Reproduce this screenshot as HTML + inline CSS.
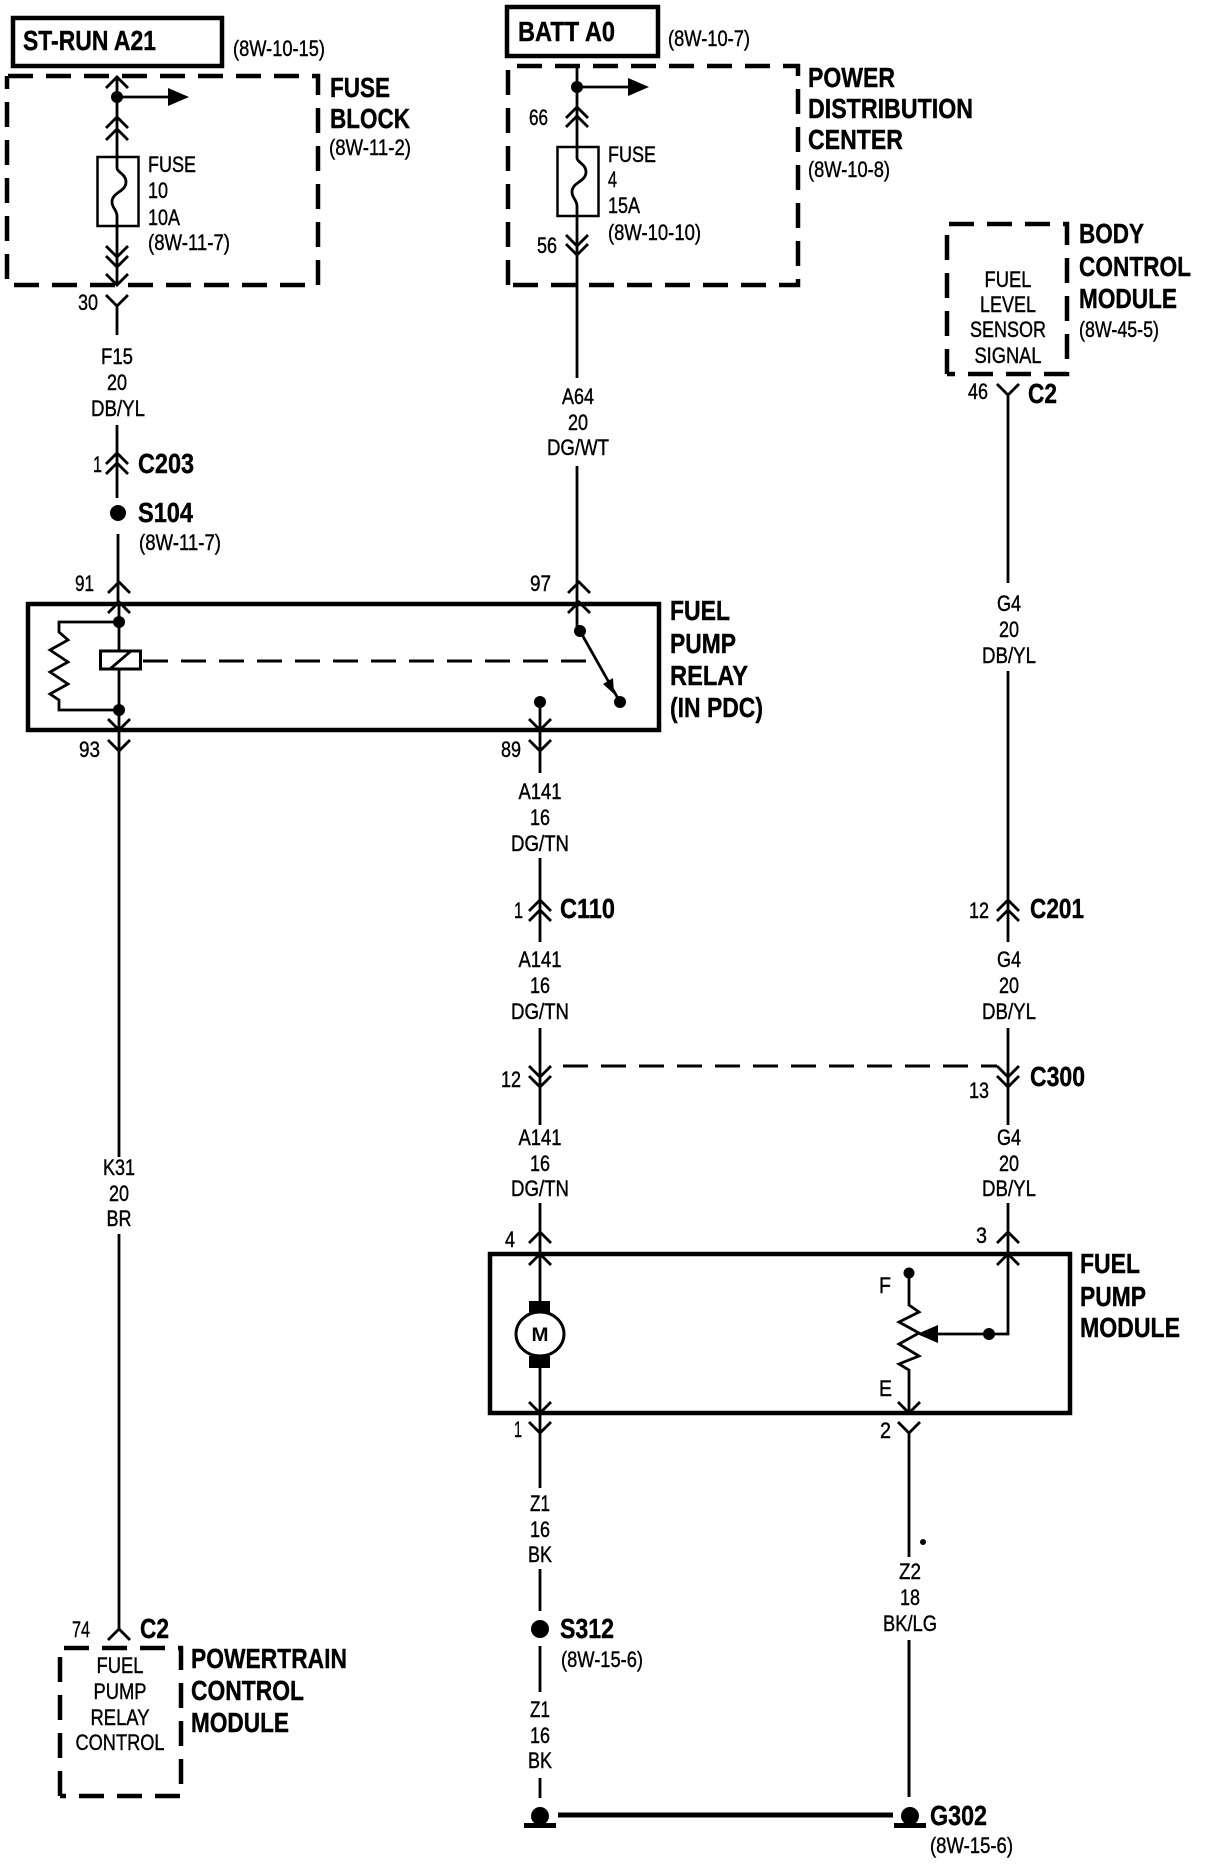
<!DOCTYPE html>
<html><head><meta charset="utf-8"><style>
html,body{margin:0;padding:0;background:#fff}
svg{display:block}
text{font-family:"Liberation Sans",Arial,sans-serif;fill:#000}
.s{font-size:22px;stroke:#000;stroke-width:.4}
.b{font-size:28px;font-weight:bold;stroke:#000;stroke-width:.4}
.m{text-anchor:middle}
.w{fill:none;stroke:#000;stroke-width:2.8}
.t{fill:none;stroke:#000;stroke-width:4.5}
.d{fill:none;stroke:#000;stroke-width:4.5;stroke-dasharray:25 13}
.c{fill:none;stroke:#000;stroke-width:2.8}
</style></head><body>
<svg width="1216" height="1864" viewBox="0 0 1216 1864" xmlns="http://www.w3.org/2000/svg">
<rect width="1216" height="1864" fill="#fff"/>

<!-- solid boxes -->
<rect class="t" x="13" y="18" width="209" height="48"/>
<rect class="t" x="507" y="7" width="151" height="49"/>
<rect class="t" x="28" y="604" width="631" height="126"/>
<rect class="t" x="490" y="1254" width="580" height="159"/>

<!-- dashed boxes -->
<path class="d" d="M8,76 H318 V285 H7 V76"/>
<path class="d" d="M508,285 V66 H798 V285 H508"/>
<path class="d" d="M947,374 V224 H1067 V374 H947"/>
<path class="d" d="M60,1796 V1648 H181 V1796 H60"/>

<!-- wires -->
<path class="w" d="M117,76 V157 M117,226 V285 M117,305 V335 M117,425 V498 M118,534 V602"/>
<path class="w" d="M577,66 V147 M577,216 V378 M577,466 V631"/>
<path class="w" d="M119,604 V651 M119,669 V1157 M119,1234 V1629"/>
<path class="w" d="M540,700 V773 M540,858 V942 M540,1028 V1125 M540,1203 V1301 M540,1367 V1488"/>
<path class="w" d="M1008,395 V583 M1008,671 V942 M1008,1028 V1125 M1008,1203 V1334 H985"/>
<path class="w" d="M540,1569 V1611 M540,1646 V1692 M540,1778 V1798"/>
<path class="w" d="M909,1432 V1557"/>
<path d="M909,1640 V1797" fill="none" stroke="#000" stroke-width="3"/>
<path d="M558,1815 H893" fill="none" stroke="#000" stroke-width="5"/>

<!-- chevrons -->
<path class="c" d="M106,88 L117,77 L128,88 M106,128 L117,117 L128,128 M106,140 L117,129 L128,140 M106,464 L117,453 L128,464 M106,474 L117,463 L128,474 M108,593 L119,582 L130,593 M108,613 L119,602 L130,613"/>
<path class="c" d="M566,118 L577,107 L588,118 M566,127 L577,116 L588,127 M568,593 L579,582 L590,593 M568,613 L579,602 L590,613"/>
<path class="c" d="M529,911 L540,900 L551,911 M529,921 L540,910 L551,921 M529,1243 L540,1232 L551,1243 M529,1265 L540,1254 L551,1265"/>
<path class="c" d="M997,911 L1008,900 L1019,911 M997,921 L1008,910 L1019,921 M997,1243 L1008,1232 L1019,1243 M997,1265 L1008,1254 L1019,1265"/>
<path class="c" d="M108,1640 L119,1629 L130,1640"/>
<path class="c" d="M106,246 L117,257 L128,246 M106,256 L117,267 L128,256 M106,274 L117,285 L128,274 M106,295 L117,306 L128,295"/>
<path class="c" d="M566,235 L577,246 L588,235 M566,244 L577,255 L588,244"/>
<path class="c" d="M108,719 L119,730 L130,719 M108,740 L119,751 L130,740 M529,719 L540,730 L551,719 M529,740 L540,751 L551,740"/>
<path class="c" d="M529,1066 L540,1077 L551,1066 M529,1076 L540,1087 L551,1076 M529,1402 L540,1413 L551,1402 M529,1422 L540,1433 L551,1422"/>
<path class="c" d="M997,384 L1008,395 L1019,384 M997,1066 L1008,1077 L1019,1066 M997,1076 L1008,1087 L1019,1076 M898,1402 L909,1413 L920,1402 M898,1422 L909,1433 L920,1422"/>

<!-- dashed links -->
<path fill="none" stroke="#000" stroke-width="3" stroke-dasharray="25 13" d="M563,1066 H997"/>
<path fill="none" stroke="#000" stroke-width="3" stroke-dasharray="25 13" d="M143,661 H596"/>

<!-- fuses and take-off arrows -->
<rect x="97.5" y="157" width="41" height="69" fill="none" stroke="#000" stroke-width="2.5"/>
<path class="w" d="M117,157 V168 C117,172 126,174 126,182 C126,192 112,192 112,202 C112,208 117,210 117,216 V226"/>
<rect x="557.5" y="147" width="41" height="69" fill="none" stroke="#000" stroke-width="2.5"/>
<path class="w" d="M577,147 V158 C577,162 586,164 586,172 C586,182 572,182 572,192 C572,198 577,200 577,206 V216"/>
<circle cx="117" cy="97" r="6"/><path class="w" d="M117,97 H172"/><path d="M168,88 L189,97 L168,106 Z"/>
<circle cx="577" cy="87" r="6"/><path class="w" d="M577,87 H632"/><path d="M628,78 L649,87 L628,96 Z"/>

<!-- relay -->
<circle cx="119" cy="622" r="6"/><circle cx="119" cy="710" r="6"/>
<path class="w" d="M119,622 H59 V632 L68,640 L50,650 L68,662 L50,672 L68,684 L50,694 L59,700 V710 H119"/>
<rect x="100.5" y="651" width="40" height="18" fill="#fff" stroke="#000" stroke-width="3"/>
<path class="w" d="M110,669 L131,651"/>
<circle cx="580" cy="631" r="6"/><circle cx="620" cy="702" r="6"/><circle cx="540" cy="702" r="6"/>
<path class="w" d="M580,631 L620,702"/><path d="M614,694 L603,684 L613,678 Z"/>

<!-- motor -->
<rect x="529" y="1301" width="21" height="12"/>
<rect x="529" y="1356" width="21" height="12"/>
<ellipse cx="540" cy="1334" rx="24" ry="22" fill="#fff" stroke="#000" stroke-width="3"/>
<text class="m" x="540" y="1341" style="font-size:19px;font-weight:bold" textLength="17" lengthAdjust="spacingAndGlyphs">M</text>

<!-- sender -->
<circle cx="909" cy="1273" r="5.5"/>
<path class="w" d="M909,1273 V1305 L919,1312 L899,1322 L919,1333 L899,1344 L919,1356 L899,1364 L909,1370 V1413"/>
<circle cx="989" cy="1334" r="6"/>
<path class="w" d="M936,1334 H989"/>
<path d="M917,1334 L938,1325 L938,1343 Z"/>

<!-- splices and grounds -->
<circle cx="118" cy="513" r="8"/>
<circle cx="540" cy="1629" r="9"/>
<circle cx="540" cy="1816" r="9"/><rect x="524" y="1823" width="32" height="5"/>
<circle cx="910" cy="1816" r="9"/><rect x="894" y="1823" width="32" height="5"/>
<circle cx="923" cy="1542" r="3"/>

<!-- titles -->
<text class="b" x="23" y="50" textLength="133" lengthAdjust="spacingAndGlyphs">ST-RUN A21</text>
<text class="b" x="518" y="41" textLength="97" lengthAdjust="spacingAndGlyphs">BATT A0</text>

<!-- bold component names -->
<text class="b" x="330" y="97" textLength="60" lengthAdjust="spacingAndGlyphs">FUSE</text>
<text class="b" x="330" y="128" textLength="80" lengthAdjust="spacingAndGlyphs">BLOCK</text>
<text class="b" x="808" y="87" textLength="87" lengthAdjust="spacingAndGlyphs">POWER</text>
<text class="b" x="808" y="118" textLength="165" lengthAdjust="spacingAndGlyphs">DISTRIBUTION</text>
<text class="b" x="808" y="149" textLength="95" lengthAdjust="spacingAndGlyphs">CENTER</text>
<text class="b" x="1079" y="243" textLength="65" lengthAdjust="spacingAndGlyphs">BODY</text>
<text class="b" x="1079" y="276" textLength="112" lengthAdjust="spacingAndGlyphs">CONTROL</text>
<text class="b" x="1079" y="308" textLength="98" lengthAdjust="spacingAndGlyphs">MODULE</text>
<text class="b" x="670" y="620" textLength="60" lengthAdjust="spacingAndGlyphs">FUEL</text>
<text class="b" x="670" y="653" textLength="66" lengthAdjust="spacingAndGlyphs">PUMP</text>
<text class="b" x="670" y="685" textLength="78" lengthAdjust="spacingAndGlyphs">RELAY</text>
<text class="b" x="670" y="717" textLength="93" lengthAdjust="spacingAndGlyphs">(IN PDC)</text>
<text class="b" x="1080" y="1273" textLength="60" lengthAdjust="spacingAndGlyphs">FUEL</text>
<text class="b" x="1080" y="1306" textLength="66" lengthAdjust="spacingAndGlyphs">PUMP</text>
<text class="b" x="1080" y="1337" textLength="100" lengthAdjust="spacingAndGlyphs">MODULE</text>
<text class="b" x="191" y="1668" textLength="156" lengthAdjust="spacingAndGlyphs">POWERTRAIN</text>
<text class="b" x="191" y="1700" textLength="113" lengthAdjust="spacingAndGlyphs">CONTROL</text>
<text class="b" x="191" y="1732" textLength="98" lengthAdjust="spacingAndGlyphs">MODULE</text>

<!-- bold connector names -->
<text class="b" x="138" y="473" textLength="56" lengthAdjust="spacingAndGlyphs">C203</text>
<text class="b" x="138" y="522" textLength="55" lengthAdjust="spacingAndGlyphs">S104</text>
<text class="b" x="1028" y="403" textLength="29" lengthAdjust="spacingAndGlyphs">C2</text>
<text class="b" x="140" y="1638" textLength="29" lengthAdjust="spacingAndGlyphs">C2</text>
<text class="b" x="560" y="918" textLength="55" lengthAdjust="spacingAndGlyphs">C110</text>
<text class="b" x="1030" y="918" textLength="54" lengthAdjust="spacingAndGlyphs">C201</text>
<text class="b" x="1030" y="1086" textLength="55" lengthAdjust="spacingAndGlyphs">C300</text>
<text class="b" x="560" y="1638" textLength="54" lengthAdjust="spacingAndGlyphs">S312</text>
<text class="b" x="930" y="1825" textLength="57" lengthAdjust="spacingAndGlyphs">G302</text>

<!-- references -->
<text class="s" x="233" y="56" textLength="92" lengthAdjust="spacingAndGlyphs">(8W-10-15)</text>
<text class="s" x="668" y="46" textLength="82" lengthAdjust="spacingAndGlyphs">(8W-10-7)</text>
<text class="s" x="329" y="155" textLength="82" lengthAdjust="spacingAndGlyphs">(8W-11-2)</text>
<text class="s" x="808" y="177" textLength="82" lengthAdjust="spacingAndGlyphs">(8W-10-8)</text>
<text class="s" x="1079" y="337" textLength="80" lengthAdjust="spacingAndGlyphs">(8W-45-5)</text>
<text class="s" x="139" y="550" textLength="82" lengthAdjust="spacingAndGlyphs">(8W-11-7)</text>
<text class="s" x="561" y="1667" textLength="82" lengthAdjust="spacingAndGlyphs">(8W-15-6)</text>
<text class="s" x="930" y="1853" textLength="83" lengthAdjust="spacingAndGlyphs">(8W-15-6)</text>

<!-- fuse labels -->
<text class="s" x="148" y="172" textLength="48" lengthAdjust="spacingAndGlyphs">FUSE</text>
<text class="s" x="148" y="198" textLength="20" lengthAdjust="spacingAndGlyphs">10</text>
<text class="s" x="148" y="225" textLength="32" lengthAdjust="spacingAndGlyphs">10A</text>
<text class="s" x="148" y="250" textLength="82" lengthAdjust="spacingAndGlyphs">(8W-11-7)</text>
<text class="s" x="608" y="162" textLength="48" lengthAdjust="spacingAndGlyphs">FUSE</text>
<text class="s" x="608" y="187" textLength="9" lengthAdjust="spacingAndGlyphs">4</text>
<text class="s" x="608" y="213" textLength="32" lengthAdjust="spacingAndGlyphs">15A</text>
<text class="s" x="608" y="240" textLength="93" lengthAdjust="spacingAndGlyphs">(8W-10-10)</text>

<!-- pin numbers -->
<text class="s" x="78" y="310" textLength="20" lengthAdjust="spacingAndGlyphs">30</text>
<text class="s" x="529" y="125" textLength="19" lengthAdjust="spacingAndGlyphs">66</text>
<text class="s" x="537" y="253" textLength="20" lengthAdjust="spacingAndGlyphs">56</text>
<text class="s" x="93" y="472" textLength="9" lengthAdjust="spacingAndGlyphs">1</text>
<text class="s" x="75" y="591" textLength="19" lengthAdjust="spacingAndGlyphs">91</text>
<text class="s" x="530" y="591" textLength="21" lengthAdjust="spacingAndGlyphs">97</text>
<text class="s" x="79" y="757" textLength="21" lengthAdjust="spacingAndGlyphs">93</text>
<text class="s" x="501" y="757" textLength="20" lengthAdjust="spacingAndGlyphs">89</text>
<text class="s" x="968" y="399" textLength="20" lengthAdjust="spacingAndGlyphs">46</text>
<text class="s" x="514" y="918" textLength="9" lengthAdjust="spacingAndGlyphs">1</text>
<text class="s" x="969" y="918" textLength="20" lengthAdjust="spacingAndGlyphs">12</text>
<text class="s" x="501" y="1087" textLength="20" lengthAdjust="spacingAndGlyphs">12</text>
<text class="s" x="969" y="1098" textLength="20" lengthAdjust="spacingAndGlyphs">13</text>
<text class="s" x="505" y="1247" textLength="10" lengthAdjust="spacingAndGlyphs">4</text>
<text class="s" x="976" y="1243" textLength="11" lengthAdjust="spacingAndGlyphs">3</text>
<text class="s" x="514" y="1437" textLength="8" lengthAdjust="spacingAndGlyphs">1</text>
<text class="s" x="880" y="1438" textLength="11" lengthAdjust="spacingAndGlyphs">2</text>
<text class="s" x="879" y="1293" textLength="12" lengthAdjust="spacingAndGlyphs">F</text>
<text class="s" x="879" y="1396" textLength="13" lengthAdjust="spacingAndGlyphs">E</text>
<text class="s" x="72" y="1637" textLength="18" lengthAdjust="spacingAndGlyphs">74</text>

<!-- wire labels -->
<text class="s m" x="117" y="364" textLength="32" lengthAdjust="spacingAndGlyphs">F15</text>
<text class="s m" x="117" y="390" textLength="20" lengthAdjust="spacingAndGlyphs">20</text>
<text class="s m" x="118" y="416" textLength="54" lengthAdjust="spacingAndGlyphs">DB/YL</text>
<text class="s m" x="578" y="404" textLength="32" lengthAdjust="spacingAndGlyphs">A64</text>
<text class="s m" x="578" y="430" textLength="20" lengthAdjust="spacingAndGlyphs">20</text>
<text class="s m" x="578" y="455" textLength="62" lengthAdjust="spacingAndGlyphs">DG/WT</text>
<text class="s m" x="1009" y="611" textLength="24" lengthAdjust="spacingAndGlyphs">G4</text>
<text class="s m" x="1009" y="637" textLength="20" lengthAdjust="spacingAndGlyphs">20</text>
<text class="s m" x="1009" y="663" textLength="54" lengthAdjust="spacingAndGlyphs">DB/YL</text>
<text class="s m" x="540" y="799" textLength="43" lengthAdjust="spacingAndGlyphs">A141</text>
<text class="s m" x="540" y="825" textLength="20" lengthAdjust="spacingAndGlyphs">16</text>
<text class="s m" x="540" y="851" textLength="58" lengthAdjust="spacingAndGlyphs">DG/TN</text>
<text class="s m" x="540" y="967" textLength="43" lengthAdjust="spacingAndGlyphs">A141</text>
<text class="s m" x="540" y="993" textLength="20" lengthAdjust="spacingAndGlyphs">16</text>
<text class="s m" x="540" y="1019" textLength="58" lengthAdjust="spacingAndGlyphs">DG/TN</text>
<text class="s m" x="540" y="1145" textLength="43" lengthAdjust="spacingAndGlyphs">A141</text>
<text class="s m" x="540" y="1171" textLength="20" lengthAdjust="spacingAndGlyphs">16</text>
<text class="s m" x="540" y="1196" textLength="58" lengthAdjust="spacingAndGlyphs">DG/TN</text>
<text class="s m" x="1009" y="967" textLength="24" lengthAdjust="spacingAndGlyphs">G4</text>
<text class="s m" x="1009" y="993" textLength="20" lengthAdjust="spacingAndGlyphs">20</text>
<text class="s m" x="1009" y="1019" textLength="54" lengthAdjust="spacingAndGlyphs">DB/YL</text>
<text class="s m" x="1009" y="1145" textLength="24" lengthAdjust="spacingAndGlyphs">G4</text>
<text class="s m" x="1009" y="1171" textLength="20" lengthAdjust="spacingAndGlyphs">20</text>
<text class="s m" x="1009" y="1196" textLength="54" lengthAdjust="spacingAndGlyphs">DB/YL</text>
<text class="s m" x="119" y="1175" textLength="32" lengthAdjust="spacingAndGlyphs">K31</text>
<text class="s m" x="119" y="1201" textLength="20" lengthAdjust="spacingAndGlyphs">20</text>
<text class="s m" x="119" y="1226" textLength="25" lengthAdjust="spacingAndGlyphs">BR</text>
<text class="s m" x="540" y="1511" textLength="20" lengthAdjust="spacingAndGlyphs">Z1</text>
<text class="s m" x="540" y="1537" textLength="20" lengthAdjust="spacingAndGlyphs">16</text>
<text class="s m" x="540" y="1562" textLength="24" lengthAdjust="spacingAndGlyphs">BK</text>
<text class="s m" x="540" y="1717" textLength="20" lengthAdjust="spacingAndGlyphs">Z1</text>
<text class="s m" x="540" y="1743" textLength="20" lengthAdjust="spacingAndGlyphs">16</text>
<text class="s m" x="540" y="1768" textLength="24" lengthAdjust="spacingAndGlyphs">BK</text>
<text class="s m" x="910" y="1579" textLength="22" lengthAdjust="spacingAndGlyphs">Z2</text>
<text class="s m" x="910" y="1605" textLength="20" lengthAdjust="spacingAndGlyphs">18</text>
<text class="s m" x="910" y="1631" textLength="54" lengthAdjust="spacingAndGlyphs">BK/LG</text>

<!-- module interior labels -->
<text class="s m" x="1008" y="287" textLength="47" lengthAdjust="spacingAndGlyphs">FUEL</text>
<text class="s m" x="1008" y="312" textLength="56" lengthAdjust="spacingAndGlyphs">LEVEL</text>
<text class="s m" x="1008" y="337" textLength="76" lengthAdjust="spacingAndGlyphs">SENSOR</text>
<text class="s m" x="1008" y="363" textLength="67" lengthAdjust="spacingAndGlyphs">SIGNAL</text>
<text class="s m" x="120" y="1673" textLength="47" lengthAdjust="spacingAndGlyphs">FUEL</text>
<text class="s m" x="120" y="1699" textLength="53" lengthAdjust="spacingAndGlyphs">PUMP</text>
<text class="s m" x="120" y="1725" textLength="59" lengthAdjust="spacingAndGlyphs">RELAY</text>
<text class="s m" x="120" y="1750" textLength="89" lengthAdjust="spacingAndGlyphs">CONTROL</text>
</svg>
</body></html>
